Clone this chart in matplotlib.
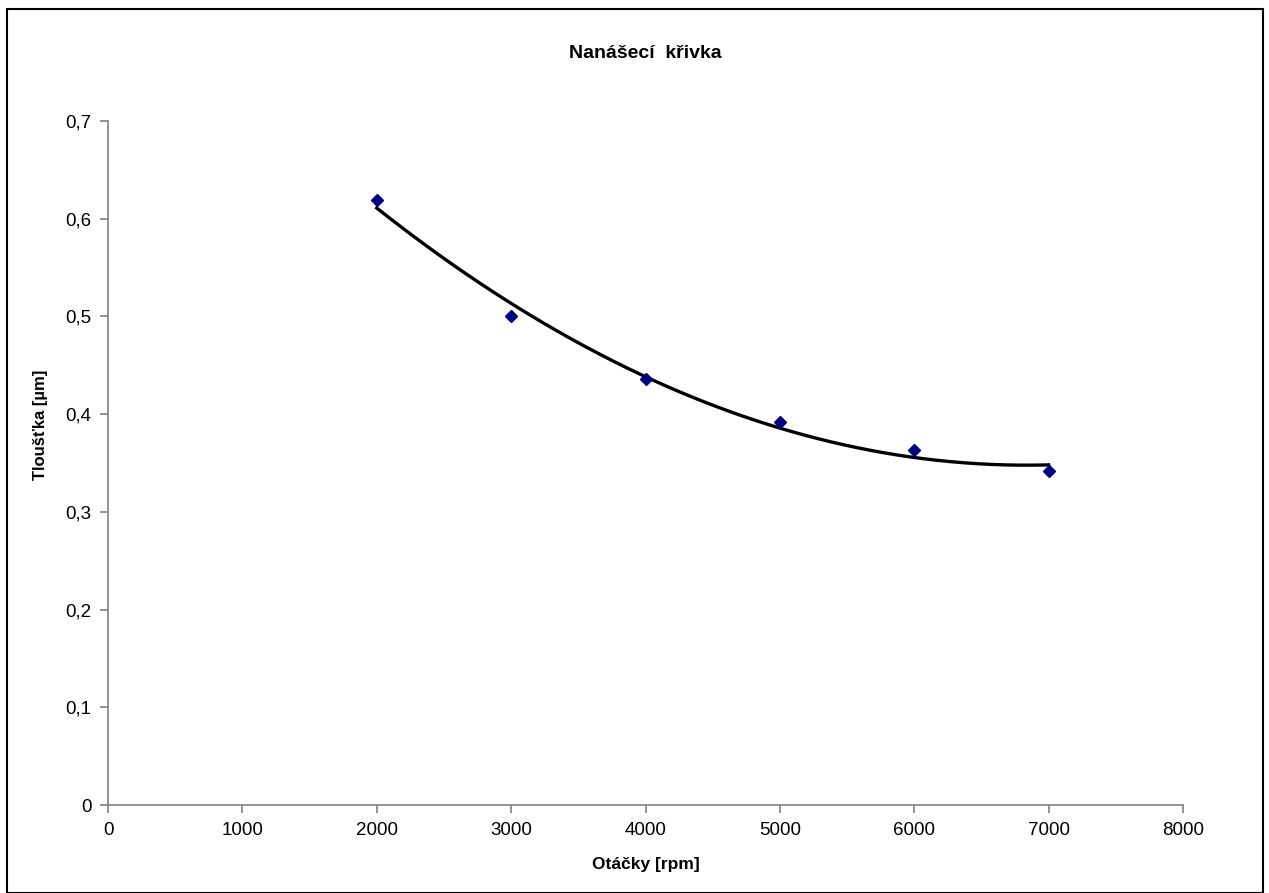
#!/usr/bin/env python3
import numpy as np
import matplotlib
matplotlib.use('Agg')
import matplotlib.pyplot as plt
from matplotlib.patches import Rectangle
from matplotlib.ticker import FuncFormatter, MultipleLocator

# data
otacky = [2000, 3000, 4000, 5000, 6000, 7000]
tloustka = [0.619, 0.500, 0.436, 0.392, 0.363, 0.342]

title = 'Nanášecí  křivka'
xlabel = 'Otáčky [rpm]'
ylabel = 'Tloušťka [µm]'

plt.rcParams['font.family'] = ['Liberation Sans', 'DejaVu Sans']

fig = plt.figure(figsize=(12.69, 8.93), dpi=100)
ax = fig.add_axes([108/1269, 1 - 805/893, (1183 - 108)/1269, (805 - 121)/893])

# polynomial trend (order 2), like the spreadsheet trendline
coef = np.polyfit(otacky, tloustka, 2)
xs = np.linspace(min(otacky), max(otacky), 200)
ax.plot(xs, np.polyval(coef, xs), color='black', lw=2.4, zorder=2)
ax.plot(otacky, tloustka, linestyle='none', marker='D', markersize=6,
        color='#000080', zorder=3)

ax.set_xlim(0, 8000)
ax.set_ylim(0, 0.7)
ax.xaxis.set_major_locator(MultipleLocator(1000))
ax.yaxis.set_major_locator(MultipleLocator(0.1))
ax.yaxis.set_major_formatter(FuncFormatter(lambda v, p: ('%g' % round(v, 2)).replace('.', ',')))

for s in ['top', 'right']:
    ax.spines[s].set_visible(False)
for s in ['left', 'bottom']:
    ax.spines[s].set_color('#808080')
    ax.spines[s].set_linewidth(1.2)
ax.tick_params(direction='out', length=6, width=1.2, color='#808080',
               labelsize=13.5, pad=6)

ax.set_xlabel(xlabel, fontsize=12.5, fontweight='bold')
ax.xaxis.set_label_coords(0.5, -(864 - 805) / 684)
ax.set_ylabel(ylabel, fontsize=12, fontweight='bold')
ax.yaxis.set_label_coords((40 - 108) / 1075, (805 - 425) / 684)
ax.xaxis.label.set_va('center')
ax.yaxis.label.set_va('center')
fig.text((108 + 1183) / 2 / 1269, 1 - 53/893, title, ha='center', va='center',
         fontsize=14, fontweight='bold')

# outer frame around chart area
fig.patches.append(Rectangle((7/1269, 0.0), (1263 - 7)/1269, 1 - 9/893 - 0.0005,
                             transform=fig.transFigure, fill=False,
                             edgecolor='black', lw=1.5))

fig.savefig('out.png', dpi=100)
